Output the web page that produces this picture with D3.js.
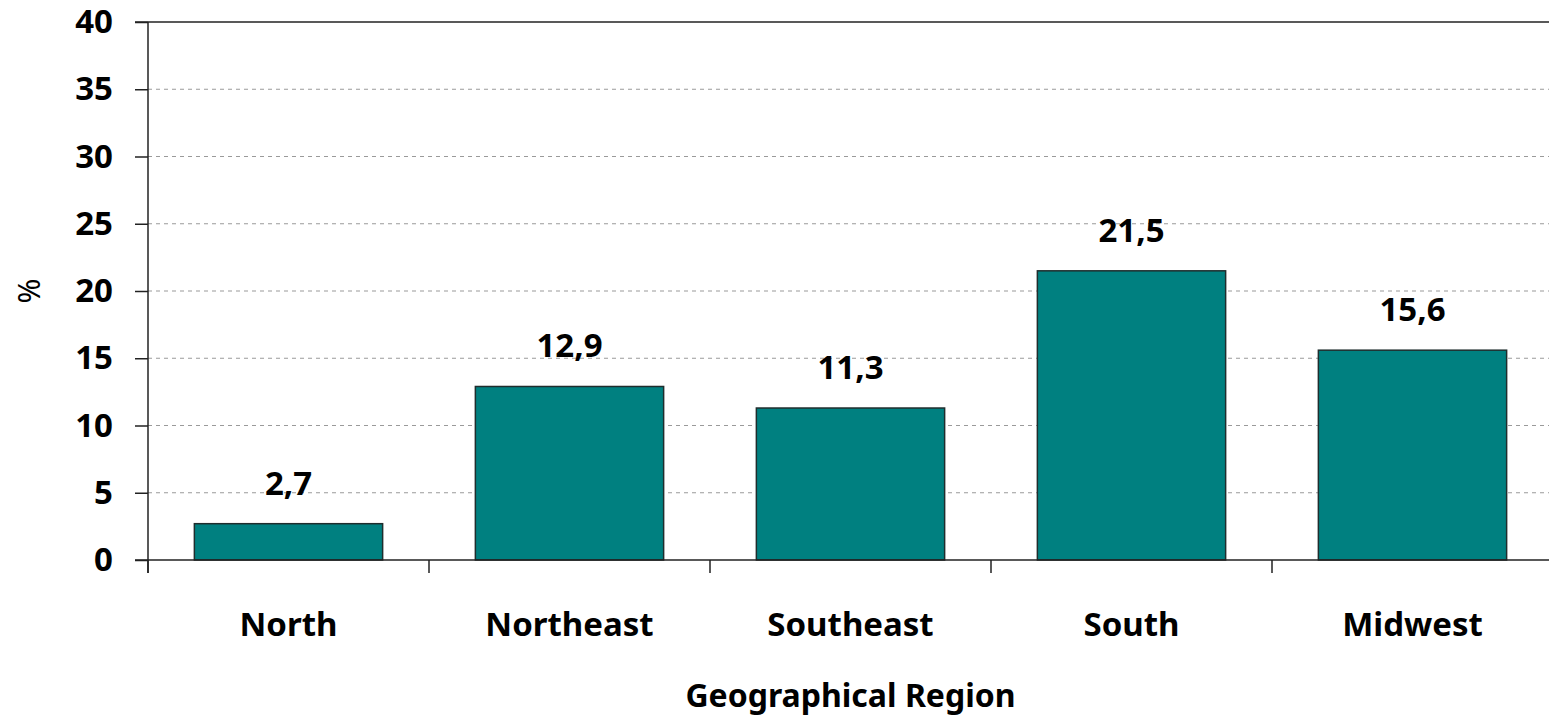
<!DOCTYPE html>
<html>
<head>
<meta charset="utf-8">
<script src="https://cdn.jsdelivr.net/npm/d3@7"></script>
<style>
  html, body { margin: 0; padding: 0; background: #fff; }
  svg { display: block; }
  text { font-family: "Noto Sans", "Open Sans", sans-serif; fill: #000; }
</style>
</head>
<body>
<svg id="chart" width="1549" height="719"></svg>
<script>
const categories = ["North", "Northeast", "Southeast", "South", "Midwest"];
const values = [2.7, 12.9, 11.3, 21.5, 15.6];
const valueLabels = ["2,7", "12,9", "11,3", "21,5", "15,6"];
const yTicks = [0, 5, 10, 15, 20, 25, 30, 35, 40];
const xTitle = "Geographical Region";
const yTitle = "%";

(function () {
const svg = d3.select("#chart");
const mLeft = 148, mRight = 1553, mTop = 22, mBottom = 560;

const x = d3.scaleBand().domain(categories).range([mLeft, mRight]).paddingInner(0.33).paddingOuter(0.165);
const xTicksScale = d3.scaleBand().domain(categories).range([mLeft, mRight]);
const y = d3.scaleLinear().domain([0, 40]).range([mBottom, mTop]);

// gridlines
svg.append("g").selectAll("line")
  .data(yTicks.filter(d => d > 0 && d < 40))
  .join("line")
  .attr("x1", mLeft).attr("x2", 1549)
  .attr("y1", d => y(d)).attr("y2", d => y(d))
  .attr("stroke", "#9a9a9a").attr("stroke-width", 1.2)
  .attr("stroke-dasharray", "4,4");

// top border
svg.append("line")
  .attr("x1", mLeft - 13).attr("x2", 1549)
  .attr("y1", y(40)).attr("y2", y(40))
  .attr("stroke", "#222").attr("stroke-width", 1.5);

// bars
svg.append("g").selectAll("rect")
  .data(values)
  .join("rect")
  .attr("x", (d, i) => x(categories[i]))
  .attr("width", x.bandwidth())
  .attr("y", d => y(d))
  .attr("height", d => y(0) - y(d))
  .attr("fill", "#008080")
  .attr("stroke", "#1f2d2d").attr("stroke-width", 1.5);

// y axis
const yAxis = d3.axisLeft(y).tickValues(yTicks).tickSize(13).tickPadding(22).tickFormat(d3.format("d"));
const gy = svg.append("g").attr("transform", `translate(${mLeft},0)`).call(yAxis);
gy.select(".domain").remove();
gy.selectAll(".tick line").attr("stroke", "#222").attr("stroke-width", 1.5);
gy.selectAll(".tick text")
  .style("font-family", '"Noto Sans", sans-serif')
  .style("font-size", "33px").style("font-weight", "bold").attr("fill", "#000");
svg.append("line")
  .attr("x1", mLeft).attr("x2", mLeft)
  .attr("y1", mTop).attr("y2", mBottom + 13)
  .attr("stroke", "#222").attr("stroke-width", 1.5);

// x axis
const xAxis = d3.axisBottom(xTicksScale).tickSize(13).tickFormat("");
const gx = svg.append("g").attr("transform", `translate(0,${mBottom})`).call(xAxis);
gx.select(".domain").remove();
gx.selectAll(".tick line")
  .attr("transform", `translate(${-xTicksScale.bandwidth() / 2},0)`)
  .attr("stroke", "#222").attr("stroke-width", 1.5);
svg.append("line")
  .attr("x1", mLeft - 13).attr("x2", 1549)
  .attr("y1", mBottom).attr("y2", mBottom)
  .attr("stroke", "#222").attr("stroke-width", 1.5);

// category labels
svg.append("g").selectAll("text")
  .data(categories)
  .join("text")
  .attr("x", d => x(d) + x.bandwidth() / 2)
  .attr("y", 636)
  .attr("text-anchor", "middle")
  .style("font-size", "33px").style("font-weight", "bold")
  .text(d => d);

// value labels
svg.append("g").selectAll("text")
  .data(values)
  .join("text")
  .attr("x", (d, i) => x(categories[i]) + x.bandwidth() / 2)
  .attr("y", d => y(d) - 29)
  .attr("text-anchor", "middle")
  .style("font-size", "33px").style("font-weight", "bold")
  .text((d, i) => valueLabels[i]);

// axis titles
svg.append("text")
  .attr("x", (mLeft + mRight) / 2).attr("y", 707)
  .attr("text-anchor", "middle")
  .style("font-size", "32px").style("font-weight", "bold")
  .text(xTitle);

svg.append("text")
  .attr("transform", `translate(40,${(mTop + mBottom) / 2}) rotate(-90)`)
  .attr("text-anchor", "middle")
  .style("font-size", "30px")
  .text(yTitle);
})();
</script>
</body>
</html>
